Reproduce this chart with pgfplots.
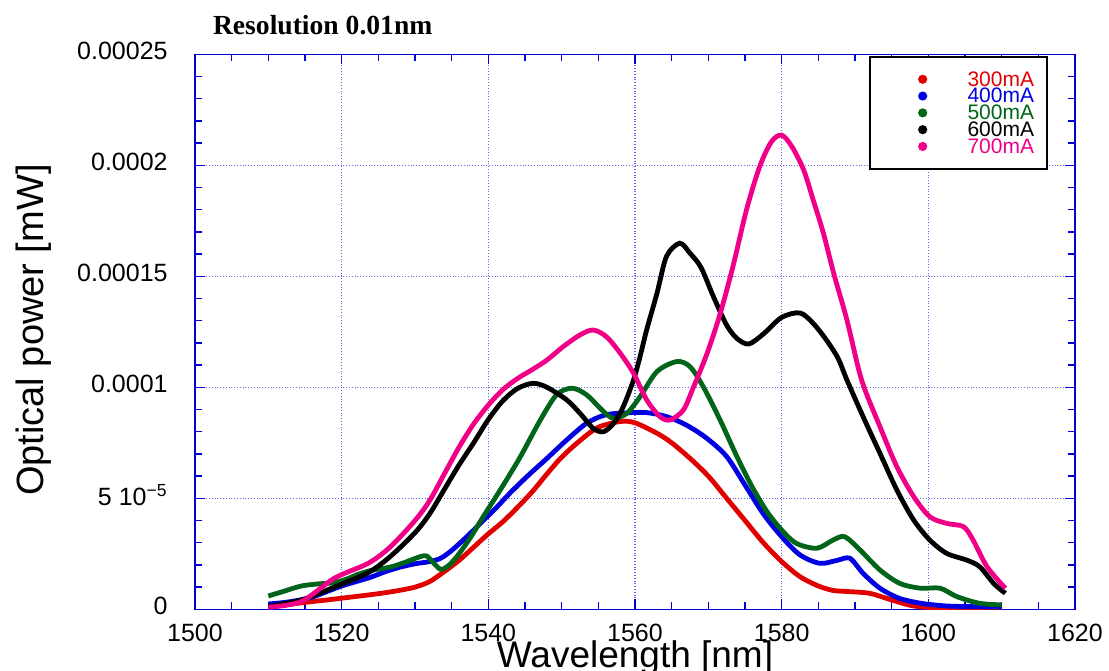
\documentclass[border=0pt]{standalone}
\usepackage{fontspec}
\setmainfont{Liberation Sans}
\newfontfamily\titlefont{Liberation Serif}
\usepackage{pgfplots}
\pgfplotsset{compat=1.18}
\definecolor{c300}{RGB}{225,0,0}
\definecolor{c400}{RGB}{0,0,225}
\definecolor{c500}{RGB}{0,100,25}
\definecolor{c600}{RGB}{0,0,0}
\definecolor{c700}{RGB}{240,0,135}
\definecolor{axblue}{RGB}{0,0,215}
\definecolor{gridblue}{RGB}{100,100,235}
\begin{document}
\begin{tikzpicture}
\useasboundingbox (0,0) rectangle (554.5pt,335pt);
\begin{axis}[
  at={(97.5pt,30.35pt)}, anchor=south west,
  scale only axis, width=440pt, height=277.5pt,
  xmin=1500, xmax=1620, ymin=0, ymax=0.00025,
  xtick={1500,1520,1540,1560,1580,1600,1620},
  xticklabels={1500,1520,1540,1560,1580,1600,1620},
  ytick={0,0.00005,0.0001,0.00015,0.0002,0.00025},
  yticklabels={0,{5 10\textsuperscript{−5}},0.0001,0.00015,0.0002,0.00025},
  scaled y ticks=false, scaled x ticks=false,
  minor x tick num=3, minor y tick num=4,
  tick align=inside, xtick pos=both, ytick pos=both,
  major tick length=5pt, minor tick length=3.5pt,
  every tick/.style={axblue, line width=0.75pt},
  axis line style={axblue, line width=0.75pt},
  grid=major, major grid style={gridblue, densely dotted, line width=0.6pt},
  ticklabel style={font=\fontsize{12.5}{12.5}\selectfont, inner sep=0pt},
  yticklabel style={anchor=east, xshift=-13.5pt, yshift=1.5pt},
  xticklabel style={anchor=north, yshift=-7pt},
  xlabel={Wavelength [nm]}, ylabel={Optical power [mW]},
  xlabel style={at={(axis description cs:0.5,-0.104)}, anchor=base, font=\fontsize{18.5}{18.5}\selectfont},
  ylabel style={at={(axis description cs:-0.1716,0.503)}, anchor=base, font=\fontsize{19}{19}\selectfont},
  legend image code/.code={\path (-18.5pt,0pt) (2pt,0pt); \fill[#1, sharp plot] (0pt,0pt) circle (1pt);},
  legend cell align=right,
  legend style={at={(axis description cs:0.9693,0.997)}, anchor=north east,
    draw=black, line width=0.9pt, fill=white,
    inner xsep=6.5pt, inner ysep=7pt, row sep=0pt, column sep=4.5pt,
    font=\fontsize{10.5}{10.5}\selectfont,
    nodes={inner sep=0pt, text height=7.6pt, text depth=0.8pt, text width=48pt, align=right}},
  every axis plot/.append style={line width=2.4pt, smooth},
]
\addplot[c300] table {
1510 0.12e-5
1512 0.2e-5
1514 0.27e-5
1516 0.35e-5
1518 0.42e-5
1520 0.5e-5
1522 0.58e-5
1524 0.66e-5
1526 0.75e-5
1528 0.86e-5
1530 1.0e-5
1532 1.25e-5
1534 1.7e-5
1536 2.2e-5
1538 2.8e-5
1540 3.4e-5
1542 3.95e-5
1544 4.6e-5
1546 5.3e-5
1548 6.1e-5
1550 6.85e-5
1552.5 7.6e-5
1555 8.2e-5
1558 8.46e-5
1560 8.4e-5
1563 7.93e-5
1565 7.5e-5
1567.5 6.8e-5
1570 6.0e-5
1572.5 5.0e-5
1575 4.0e-5
1577.5 3.0e-5
1580 2.15e-5
1582.5 1.47e-5
1585 1.05e-5
1587 0.85e-5
1589 0.8e-5
1592 0.72e-5
1595 0.42e-5
1598 0.15e-5
1602 0.05e-5
1606 0.02e-5
1610 0.01e-5
};
\addlegendentry{\textcolor{c300}{300mA}}
\addplot[c400] table {
1510 0.24e-5
1512 0.3e-5
1514 0.4e-5
1516 0.55e-5
1518 0.8e-5
1520 1.05e-5
1522 1.25e-5
1524 1.45e-5
1526 1.7e-5
1528 1.9e-5
1530 2.05e-5
1532 2.15e-5
1533.5 2.3e-5
1535 2.65e-5
1537 3.25e-5
1539 3.9e-5
1541 4.55e-5
1543 5.25e-5
1545.5 6.05e-5
1548 6.8e-5
1550.7 7.63e-5
1553.4 8.38e-5
1556 8.76e-5
1559 8.85e-5
1561.6 8.86e-5
1564.3 8.68e-5
1567 8.3e-5
1569.8 7.7e-5
1572.5 6.88e-5
1575 5.6e-5
1577.5 4.3e-5
1580 3.27e-5
1582.5 2.45e-5
1585.2 2.07e-5
1587.5 2.2e-5
1589.3 2.3e-5
1591.1 1.62e-5
1593.4 0.95e-5
1596 0.5e-5
1599 0.27e-5
1602.5 0.15e-5
1606 0.12e-5
1610 0.1e-5
};
\addlegendentry{\textcolor{c400}{400mA}}
\addplot[c500] table {
1510 0.6e-5
1512 0.8e-5
1514.5 1.05e-5
1517 1.15e-5
1519 1.2e-5
1521 1.4e-5
1522 1.55e-5
1524 1.75e-5
1526.6 1.9e-5
1528.5 2.1e-5
1530.7 2.37e-5
1531.6 2.4e-5
1532.5 2.1e-5
1533.5 1.8e-5
1534.5 1.95e-5
1535.7 2.37e-5
1537.5 3.2e-5
1539.3 4.17e-5
1541 5.05e-5
1542.7 5.95e-5
1544.5 6.95e-5
1547.1 8.53e-5
1549.3 9.66e-5
1551.4 9.96e-5
1553.4 9.66e-5
1555.7 8.91e-5
1557.1 8.6e-5
1558.9 8.83e-5
1560.7 9.58e-5
1563 10.71e-5
1565.7 11.16e-5
1567.5 10.93e-5
1569.3 10.03e-5
1571.6 8.53e-5
1573.9 6.88e-5
1576 5.5e-5
1578 4.4e-5
1580 3.57e-5
1582 2.97e-5
1584.8 2.75e-5
1587 3.12e-5
1588.6 3.27e-5
1590.7 2.67e-5
1593.4 1.77e-5
1596.1 1.17e-5
1598.9 0.95e-5
1601.6 0.95e-5
1603.9 0.57e-5
1607 0.27e-5
1610 0.2e-5
};
\addlegendentry{\textcolor{c500}{500mA}}
\addplot[c600] table {
1510 0.12e-5
1514.5 0.42e-5
1519 1.0e-5
1523.6 1.65e-5
1526.6 2.37e-5
1530 3.45e-5
1532 4.3e-5
1534 5.4e-5
1536 6.5e-5
1538 7.5e-5
1540 8.55e-5
1542 9.4e-5
1544 9.95e-5
1546.1 10.18e-5
1548 10.0e-5
1550.7 9.43e-5
1552.5 8.83e-5
1554.3 8.15e-5
1555.7 8.0e-5
1557.1 8.38e-5
1558.4 9.13e-5
1559.8 10.33e-5
1560.7 11.4e-5
1561.6 12.6e-5
1563 14.24e-5
1564.3 15.9e-5
1566.1 16.49e-5
1567.5 16.04e-5
1569 15.4e-5
1570.7 14.08e-5
1572.5 12.8e-5
1573.9 12.2e-5
1575.5 11.95e-5
1577.5 12.4e-5
1580 13.15e-5
1582.5 13.35e-5
1584.3 12.88e-5
1586.1 12.13e-5
1587.7 11.3e-5
1588.9 10.33e-5
1591.1 8.68e-5
1593.4 7.03e-5
1595.7 5.38e-5
1598 4.02e-5
1600.2 3.12e-5
1602.5 2.52e-5
1605.2 2.22e-5
1607 1.92e-5
1608.9 1.17e-5
1610.5 0.72e-5
};
\addlegendentry{\textcolor{c600}{600mA}}
\addplot[c700] table {
1510 0.09e-5
1514.5 0.35e-5
1519 1.4e-5
1523.6 2.07e-5
1526.6 2.8e-5
1530 4.0e-5
1532 4.9e-5
1534 6.1e-5
1536 7.3e-5
1538 8.35e-5
1540 9.2e-5
1542 9.9e-5
1544 10.4e-5
1546 10.8e-5
1548 11.23e-5
1550.2 11.83e-5
1552.5 12.36e-5
1554.3 12.58e-5
1556.1 12.28e-5
1558 11.53e-5
1559.8 10.63e-5
1561.6 9.43e-5
1563.4 8.68e-5
1564.8 8.53e-5
1566.6 8.98e-5
1568 10.03e-5
1569.8 11.5e-5
1571.6 13.3e-5
1573.4 15.5e-5
1575.2 17.99e-5
1577 19.94e-5
1578.6 21.06e-5
1580 21.36e-5
1581.4 20.84e-5
1583 19.79e-5
1584.3 18.44e-5
1585.7 16.93e-5
1587.1 15.13e-5
1588.9 13.03e-5
1590.9 10.33e-5
1593.4 8.23e-5
1595.7 6.43e-5
1598 5.08e-5
1600.2 4.17e-5
1602.5 3.87e-5
1604.8 3.72e-5
1606.1 3.12e-5
1608 1.92e-5
1610.5 0.95e-5
};
\addlegendentry{\textcolor{c700}{700mA}}
\end{axis}
\node[anchor=base west, font=\titlefont\bfseries\fontsize{13.8}{14}\selectfont] at (103pt,317.5pt) {Resolution 0.01nm};
\end{tikzpicture}
\end{document}
